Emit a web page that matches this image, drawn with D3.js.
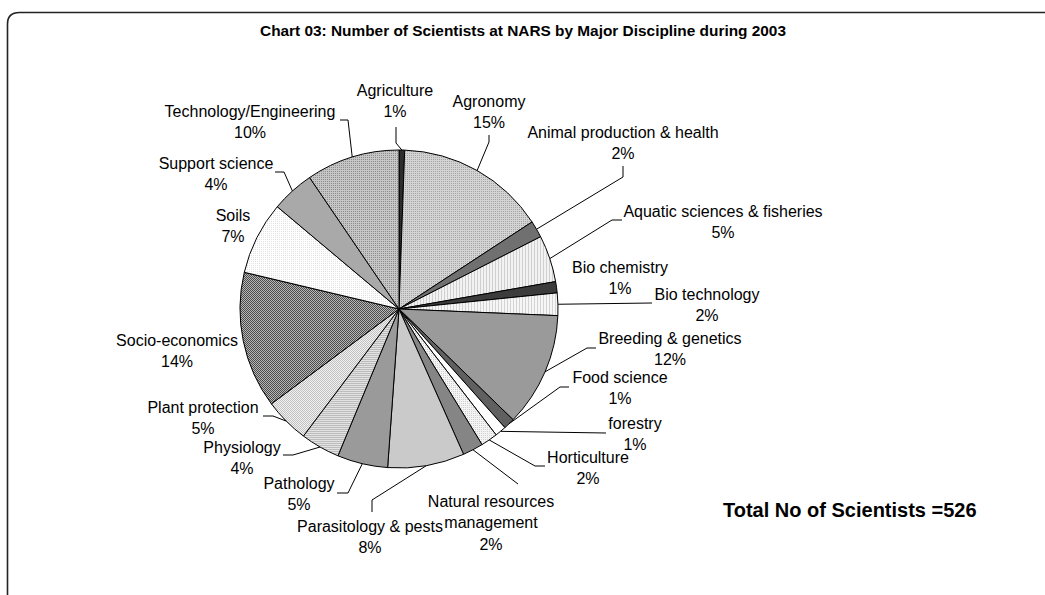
<!DOCTYPE html>
<html>
<head>
<meta charset="utf-8">
<script src="https://cdn.jsdelivr.net/npm/d3@7"></script>
<style>
  html, body { margin: 0; padding: 0; background: #fff; }
  svg { display: block; }
  text { font-family: "Liberation Sans", Arial, sans-serif; fill: #000; }
</style>
</head>
<body>
<svg id="chart" width="1045" height="595"></svg>
<script>
// ---- data ----
const title = "Chart 03: Number of Scientists at NARS by Major Discipline during 2003";
const categories = [
  "Agriculture", "Agronomy", "Animal production & health", "Aquatic sciences & fisheries",
  "Bio chemistry", "Bio technology", "Breeding & genetics", "Food science", "forestry",
  "Horticulture", "Natural resources management", "Parasitology & pests", "Pathology",
  "Physiology", "Plant protection", "Socio-economics", "Soils", "Support science",
  "Technology/Engineering"
];
const values = [3, 80, 9, 25, 6, 12, 61, 6, 6, 9, 11, 41, 27, 21, 24, 73, 39, 23, 50];
const totalLabel = "Total No of Scientists =526";

// ---- styling / layout (not data) ----
const fills = [
  "#2e2e2e", "url(#pAgro)", "#707070", "url(#pAqua)", "#3c3c3c", "url(#pBio)",
  "#9a9a9a", "#606060", "#ffffff", "url(#pHort)", "#858585", "#cacaca", "#9a9a9a",
  "url(#pPhys)", "url(#pPP)", "url(#pSocio)", "url(#pSoils)", "#a9a9a9", "url(#pTech)"
];
// label anchor: centre x, mid-y of first line, explicit line breaks, leader knees
const labelLayout = [
  {x: 395, y: 90,  lines: ["Agriculture"], knees: [[396,127],[396,143]]},
  {x: 489, y: 101, lines: ["Agronomy"], knees: [[489,135],[489,142]]},
  {x: 623, y: 132, lines: ["Animal production & health"], knees: [[623,166],[623,177]]},
  {x: 723, y: 211, lines: ["Aquatic sciences & fisheries"], knees: [[622,220],[612,220]]},
  {x: 620, y: 267, lines: ["Bio chemistry"], knees: null},
  {x: 707, y: 294, lines: ["Bio technology"], knees: [[652,303]]},
  {x: 670, y: 338, lines: ["Breeding & genetics"], knees: [[596,348],[587,348]]},
  {x: 620, y: 377, lines: ["Food science"], knees: [[569,387],[560,387]]},
  {x: 635, y: 423, lines: ["forestry"], knees: [[606,433]]},
  {x: 588, y: 457, lines: ["Horticulture"], knees: [[545,466],[535,466]]},
  {x: 491, y: 501, lines: ["Natural resources", "management"], knees: [[518,484]]},
  {x: 370, y: 526, lines: ["Parasitology & pests"], knees: [[372,512],[372,500]]},
  {x: 299, y: 483, lines: ["Pathology"], knees: [[337,493],[348,493]]},
  {x: 242, y: 447, lines: ["Physiology"], knees: [[283,455],[293,455]]},
  {x: 203, y: 407, lines: ["Plant protection"], knees: [[263,416],[273,416]]},
  {x: 177, y: 340, lines: ["Socio-economics"], knees: null},
  {x: 233, y: 215, lines: ["Soils"], knees: null},
  {x: 216, y: 163, lines: ["Support science"], knees: [[275,172],[284,172]]},
  {x: 250, y: 111, lines: ["Technology/Engineering"], knees: [[340,120],[348,120]]}
];

const cx = 399, cy = 309, R = 159;
const lineH = 21.5;

const svg = d3.select("#chart");
const defs = svg.append("defs");

function pat(id, w, h, bg, pts, col) {
  const p = defs.append("pattern").attr("id", id)
    .attr("patternUnits", "userSpaceOnUse").attr("width", w).attr("height", h);
  p.append("rect").attr("width", w).attr("height", h).attr("fill", bg);
  pts.forEach(([x, y, ww, hh]) => p.append("rect").attr("x", x).attr("y", y)
    .attr("width", ww || 1).attr("height", hh || 1).attr("fill", col));
}
pat("pAgro", 2, 2, "#d4d4d4", [[0,0]], "#a4a4a4");
pat("pTech", 2, 2, "#c6c6c6", [[0,0]], "#8c8c8c");
pat("pSoils", 2, 2, "#ffffff", [[0,0]], "#e2e2e2");
pat("pAqua", 3, 1, "#f2f2f2", [[0,0]], "#d0d0d0");
pat("pBio", 3, 1, "#f6f6f6", [[0,0]], "#d4d4d4");
pat("pHort", 2, 2, "#f4f4f4", [[0,0]], "#d0d0d0");
pat("pPhys", 2, 2, "#e2e2e2", [[0,0],[1,0]], "#bcbcbc");
pat("pPP", 2, 2, "#f2f2f2", [[0,0],[1,1]], "#c0c0c0");
pat("pSocio", 2, 2, "#b8b8b8", [[0,0],[1,1]], "#4a4a4a");

// frame
svg.append("path")
  .attr("d", "M7.5,595 L7.5,24 Q7.5,12.5 19.5,12.5 L1045,12.5")
  .attr("fill", "none").attr("stroke", "#222").attr("stroke-width", 1.6);

// title
svg.append("text").attr("x", 523).attr("y", 36)
  .attr("text-anchor", "middle").attr("font-weight", "bold")
  .attr("font-size", "15.4px").text(title);

const total = d3.sum(values);
const data = categories.map((c, i) => ({name: c, value: values[i], i}));
const pie = d3.pie().value(d => d.value).sort(null).startAngle(0).endAngle(2 * Math.PI);
const arcs = pie(data);
const arc = d3.arc().innerRadius(0).outerRadius(R);

const g = svg.append("g").attr("transform", `translate(${cx},${cy})`);
g.selectAll("path.slice").data(arcs).join("path")
  .attr("class", "slice")
  .attr("d", arc)
  .attr("fill", d => fills[d.data.i])
  .attr("stroke", "#000").attr("stroke-width", 1).attr("stroke-linejoin", "round");

// leaders
const pctFmt = v => Math.round(v / total * 100) + "%";
arcs.forEach(d => {
  const L = labelLayout[d.data.i];
  if (!L.knees) return;
  const a = (d.startAngle + d.endAngle) / 2;
  const end = [cx + R * Math.sin(a), cy - R * Math.cos(a)];
  const pts = L.knees.concat([end]);
  svg.append("path")
    .attr("d", d3.line()(pts))
    .attr("fill", "none").attr("stroke", "#000").attr("stroke-width", 1);
});

// labels
arcs.forEach(d => {
  const L = labelLayout[d.data.i];
  const t = svg.append("text").attr("text-anchor", "middle").attr("font-size", "16px");
  const lines = L.lines.concat([pctFmt(d.data.value)]);
  lines.forEach((s, k) => {
    t.append("tspan").attr("x", L.x).attr("y", L.y + k * lineH).attr("dy", "0.36em").text(s);
  });
});

// total
svg.append("text").attr("x", 723).attr("y", 517)
  .attr("font-weight", "bold").attr("font-size", "20px").text(totalLabel);
</script>
</body>
</html>
